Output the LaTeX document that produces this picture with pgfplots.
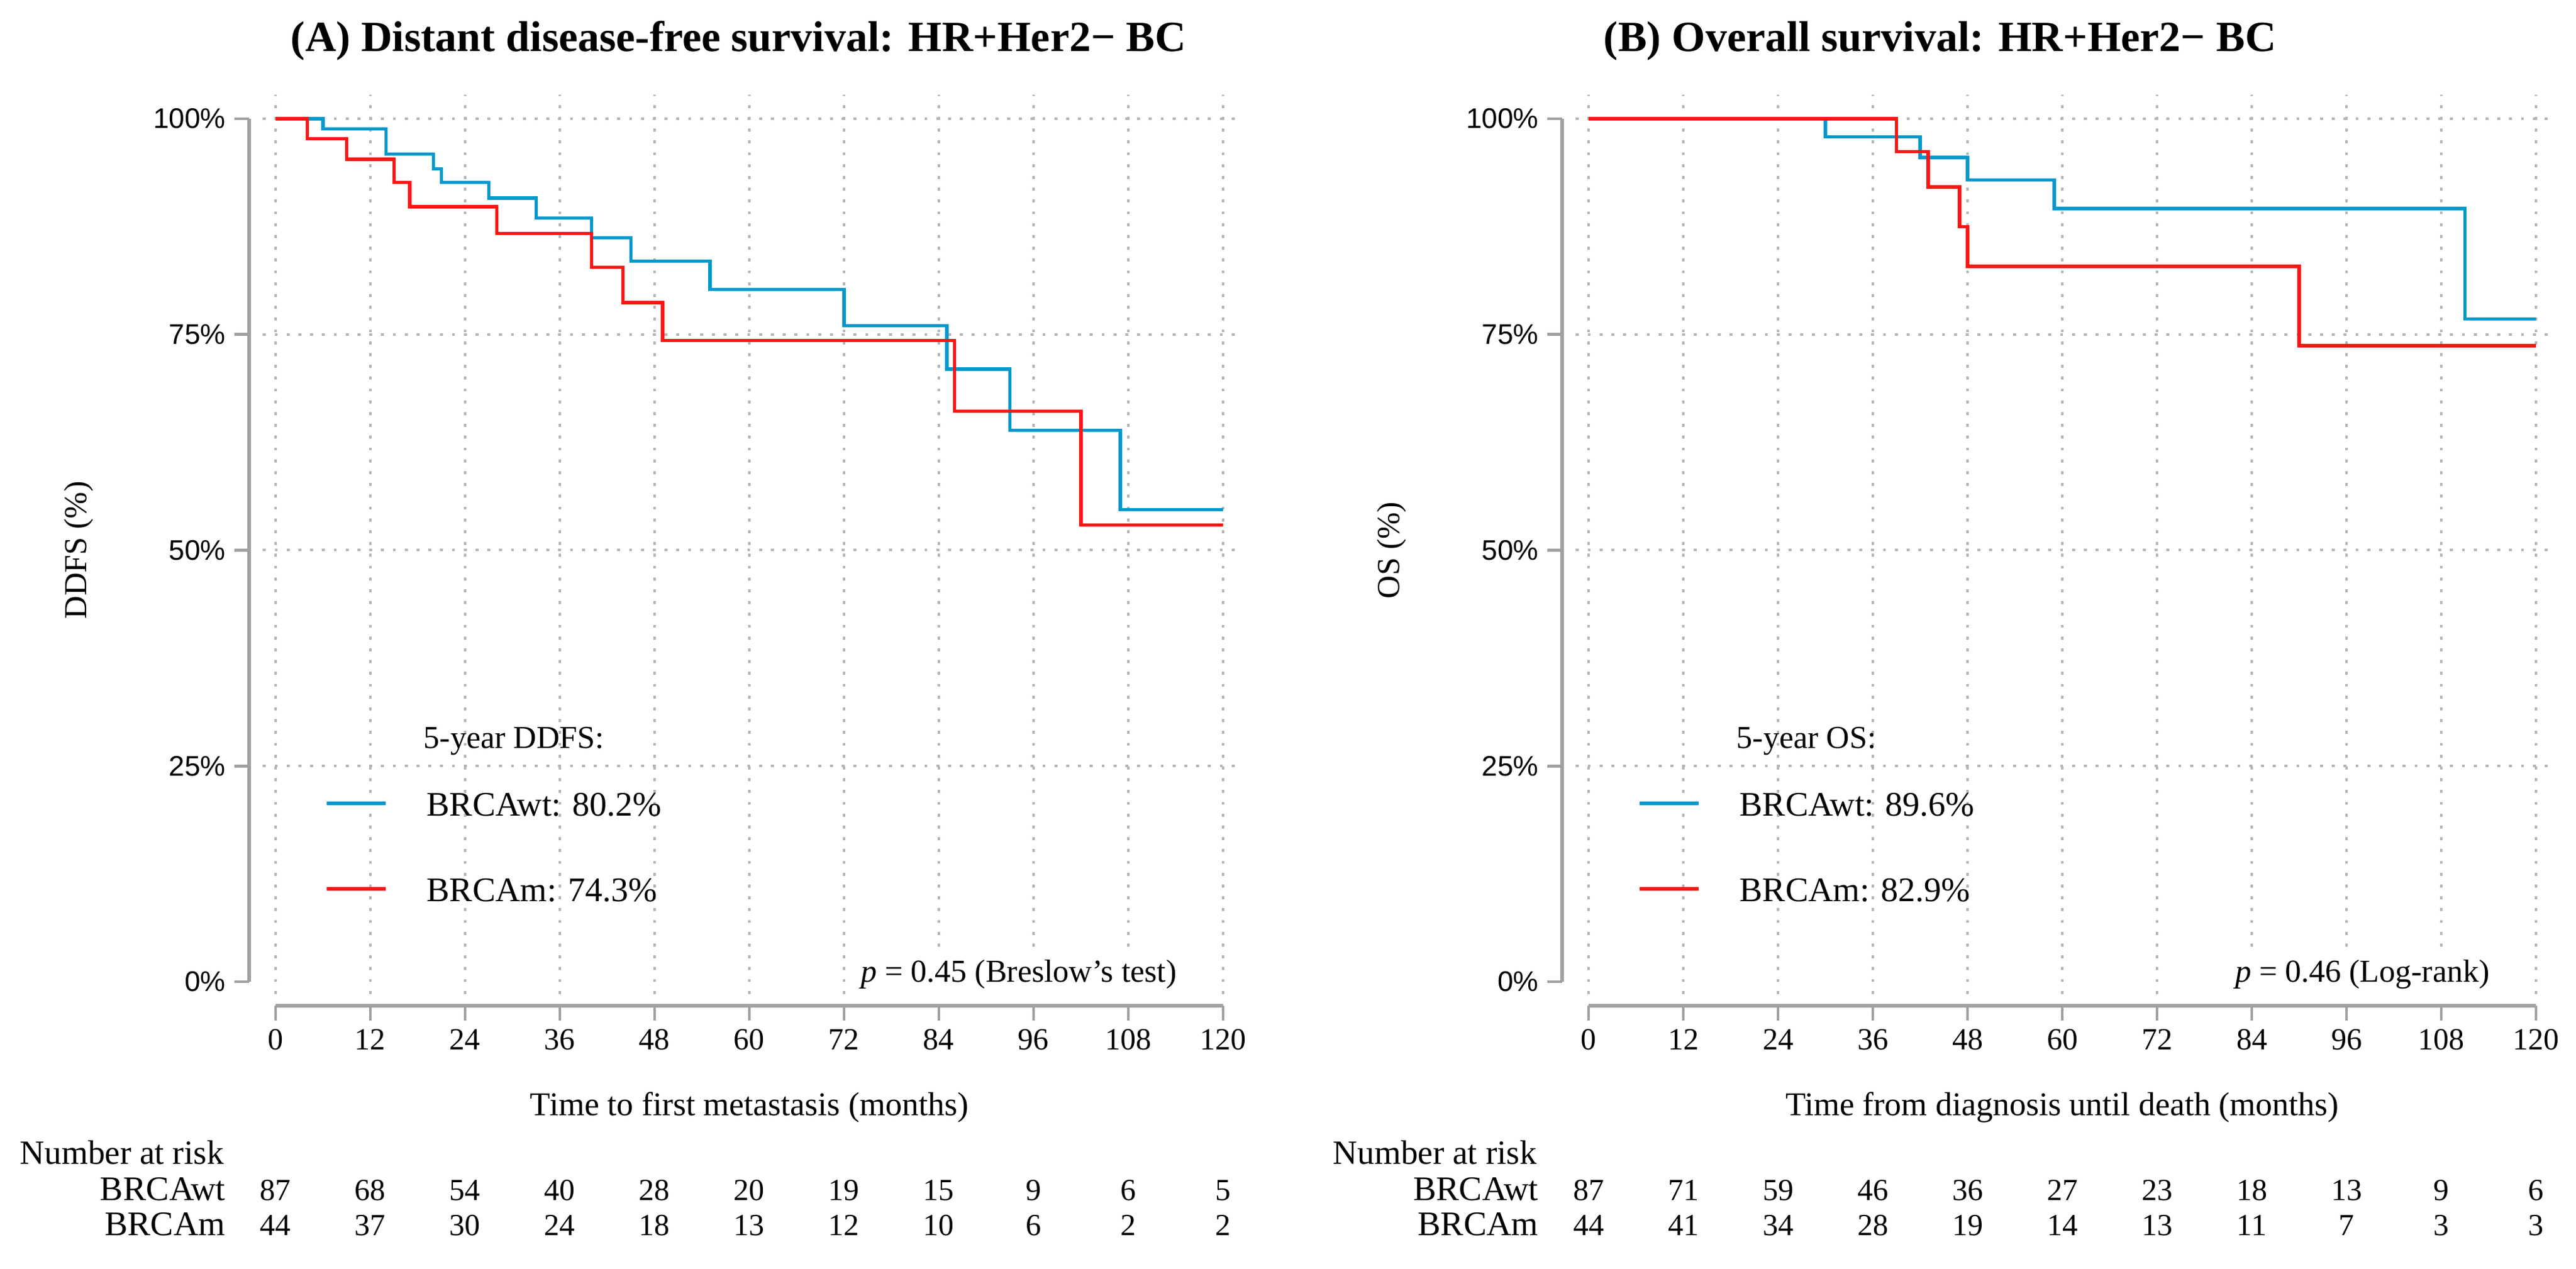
\documentclass[border=0pt]{standalone}
\usepackage{fontspec}
\setmainfont{Liberation Serif}
\setsansfont{Liberation Sans}
\usepackage{pgfplots}
\pgfplotsset{compat=1.18}
\definecolor{kmblue}{RGB}{0,153,204}
\definecolor{kmred}{RGB}{255,20,20}
\definecolor{spinegray}{RGB}{160,160,160}
\definecolor{gridgray}{RGB}{180,180,180}
\newcommand{\txt}{\fontsize{13}{15}\selectfont}
\tikzset{
  gridst/.style={gridgray, line width=1pt, dash pattern=on 1.2pt off 3.6pt},
  spine/.style={spinegray, line width=1.3pt},
  risk/.style={anchor=base, inner sep=0pt, font=\fontsize{12.5}{14}\selectfont},
  rlab/.style={anchor=base east, inner sep=0pt, font=\fontsize{14}{16}\selectfont},
}
\pgfplotsset{
  kmaxis/.style={
    x=3.2083pt, y=3.5075pt,
    xmin=-3.35, xmax=123.35, ymin=-2.78, ymax=102.78,
    anchor=south west,
    axis line style={draw=none},
    clip=false,
    xtick={0,12,24,36,48,60,72,84,96,108,120},
    xticklabels={0,12,24,36,48,60,72,84,96,108,120},
    ytick={0,25,50,75,100},
    yticklabels={0\%,25\%,50\%,75\%,100\%},
    xtick pos=left, ytick pos=left,
    tick align=outside,
    major tick length=6pt,
    tick style={color=spinegray, line width=1.2pt},
    xticklabel style={font=\fontsize{12.5}{14}\selectfont},
    yticklabel style={font=\sffamily\fontsize{11.5}{13}\selectfont},
    legend image code/.code={\draw[##1] (0pt,1.25pt) -- (24pt,1.25pt);},
    legend cell align=left,
    legend style={at={(0.0756,0.2323)}, anchor=north west, draw=none, fill=none,
      inner sep=0pt, outer sep=0pt, row sep=24.75pt, column sep=16pt,
      nodes={inner sep=0pt, text height=9pt, text depth=1pt, font=\fontsize{14}{16}\selectfont}},
  },
  kmline/.style={const plot, line width=1.35pt, no marks},
}
\newcommand{\kmgrid}{%
  \pgfplotsinvokeforeach{0,12,24,36,48,60,72,84,96,108,120}{\draw[gridst] (axis cs:##1,-1.4) -- (axis cs:##1,102.78);}
  \pgfplotsinvokeforeach{25,50,75,100}{\draw[gridst] (axis cs:-1.6,##1) -- (axis cs:121.7,##1);}
  \draw[spine] (axis cs:0,-2.78) -- (axis cs:120,-2.78);
  \draw[spine] (axis cs:-3.35,0) -- (axis cs:-3.35,100);
}
\begin{document}
\begin{tikzpicture}
\useasboundingbox (0pt,0pt) rectangle (1046.75pt,515.75pt);

% ---------------- Panel A ----------------
\begin{axis}[kmaxis, at={(101.25pt,107pt)}]
\kmgrid
\addplot[kmline, kmblue] coordinates {
 (0,100) (6,98.8) (14,95.9) (20,94.2) (21,92.6) (27,90.8) (33,88.5) (40,86.2)
 (45,83.5) (55,80.2) (72,76.0) (85,71.0) (93,63.9) (107,54.7) (120,54.7)};
\addlegendentry{BRCAwt: 80.2\%}
\addplot[kmline, kmred] coordinates {
 (0,100) (4,97.7) (9,95.3) (15,92.6) (17,89.8) (28,86.7) (40,82.8) (44,78.7)
 (49,74.3) (86,66.1) (102,52.9) (120,52.9)};
\addlegendentry{BRCAm: 74.3\%}
\node[anchor=base west, inner sep=0pt, font=\txt] at (axis cs:18.70,27.08) {5-year DDFS:};
\node[anchor=base east, fill=white, inner xsep=3pt, inner ysep=4pt, font=\txt] at (axis cs:115.13,-0.07) {\textit{p} = 0.45 (Breslow's test)};
\node[anchor=base west, inner sep=0pt, font=\bfseries\fontsize{17.5}{20}\selectfont] at (axis cs:1.87,107.77) {(A) Distant disease-free survival: HR+Her2− BC};
\node[rotate=90, inner sep=0pt, font=\txt] at (axis cs:-24.94,50) {DDFS (\%)};
\node[anchor=base, inner sep=0pt, font=\fontsize{13.5}{15}\selectfont] at (axis cs:60,-15.47) {Time to first metastasis (months)};
\node[rlab, font=\fontsize{13.8}{16}\selectfont] at (axis cs:-6.5,-21.10) {Number at risk};
\node[rlab] at (axis cs:-6.3,-25.37) {BRCAwt};
\node[rlab] at (axis cs:-6.3,-29.37) {BRCAm};
\foreach \x/\a/\b in {0/87/44,12/68/37,24/54/30,36/40/24,48/28/18,60/20/13,72/19/12,84/15/10,96/9/6,108/6/2,120/5/2}{
  \edef\tmp{\noexpand\node[risk] at (axis cs:\x,-25.37) {\a}; \noexpand\node[risk] at (axis cs:\x,-29.37) {\b};}\tmp}
\end{axis}

% ---------------- Panel B ----------------
\begin{axis}[kmaxis, at={(634.75pt,107pt)}]
\kmgrid
\addplot[kmline, kmblue] coordinates {
 (0,100) (30,97.9) (42,95.5) (48,92.9) (59,89.6) (111,76.8) (120,76.8)};
\addlegendentry{BRCAwt: 89.6\%}
\addplot[kmline, kmred] coordinates {
 (0,100) (39,96.2) (43,92.1) (47,87.5) (48,82.9) (90,73.7) (120,73.7)};
\addlegendentry{BRCAm: 82.9\%}
\node[anchor=base west, inner sep=0pt, font=\txt] at (axis cs:18.70,27.08) {5-year OS:};
\node[anchor=base east, fill=white, inner xsep=3pt, inner ysep=4pt, font=\txt] at (axis cs:115.13,-0.07) {\textit{p} = 0.46 (Log-rank)};
\node[anchor=base west, inner sep=0pt, font=\bfseries\fontsize{17.5}{20}\selectfont] at (axis cs:1.87,107.77) {(B) Overall survival: HR+Her2− BC};
\node[rotate=90, inner sep=0pt, font=\txt] at (axis cs:-24.94,50) {OS (\%)};
\node[anchor=base, inner sep=0pt, font=\fontsize{13.5}{15}\selectfont] at (axis cs:60,-15.47) {Time from diagnosis until death (months)};
\node[rlab, font=\fontsize{13.8}{16}\selectfont] at (axis cs:-6.5,-21.10) {Number at risk};
\node[rlab] at (axis cs:-6.3,-25.37) {BRCAwt};
\node[rlab] at (axis cs:-6.3,-29.37) {BRCAm};
\foreach \x/\a/\b in {0/87/44,12/71/41,24/59/34,36/46/28,48/36/19,60/27/14,72/23/13,84/18/11,96/13/7,108/9/3,120/6/3}{
  \edef\tmp{\noexpand\node[risk] at (axis cs:\x,-25.37) {\a}; \noexpand\node[risk] at (axis cs:\x,-29.37) {\b};}\tmp}
\end{axis}
\end{tikzpicture}
\end{document}
